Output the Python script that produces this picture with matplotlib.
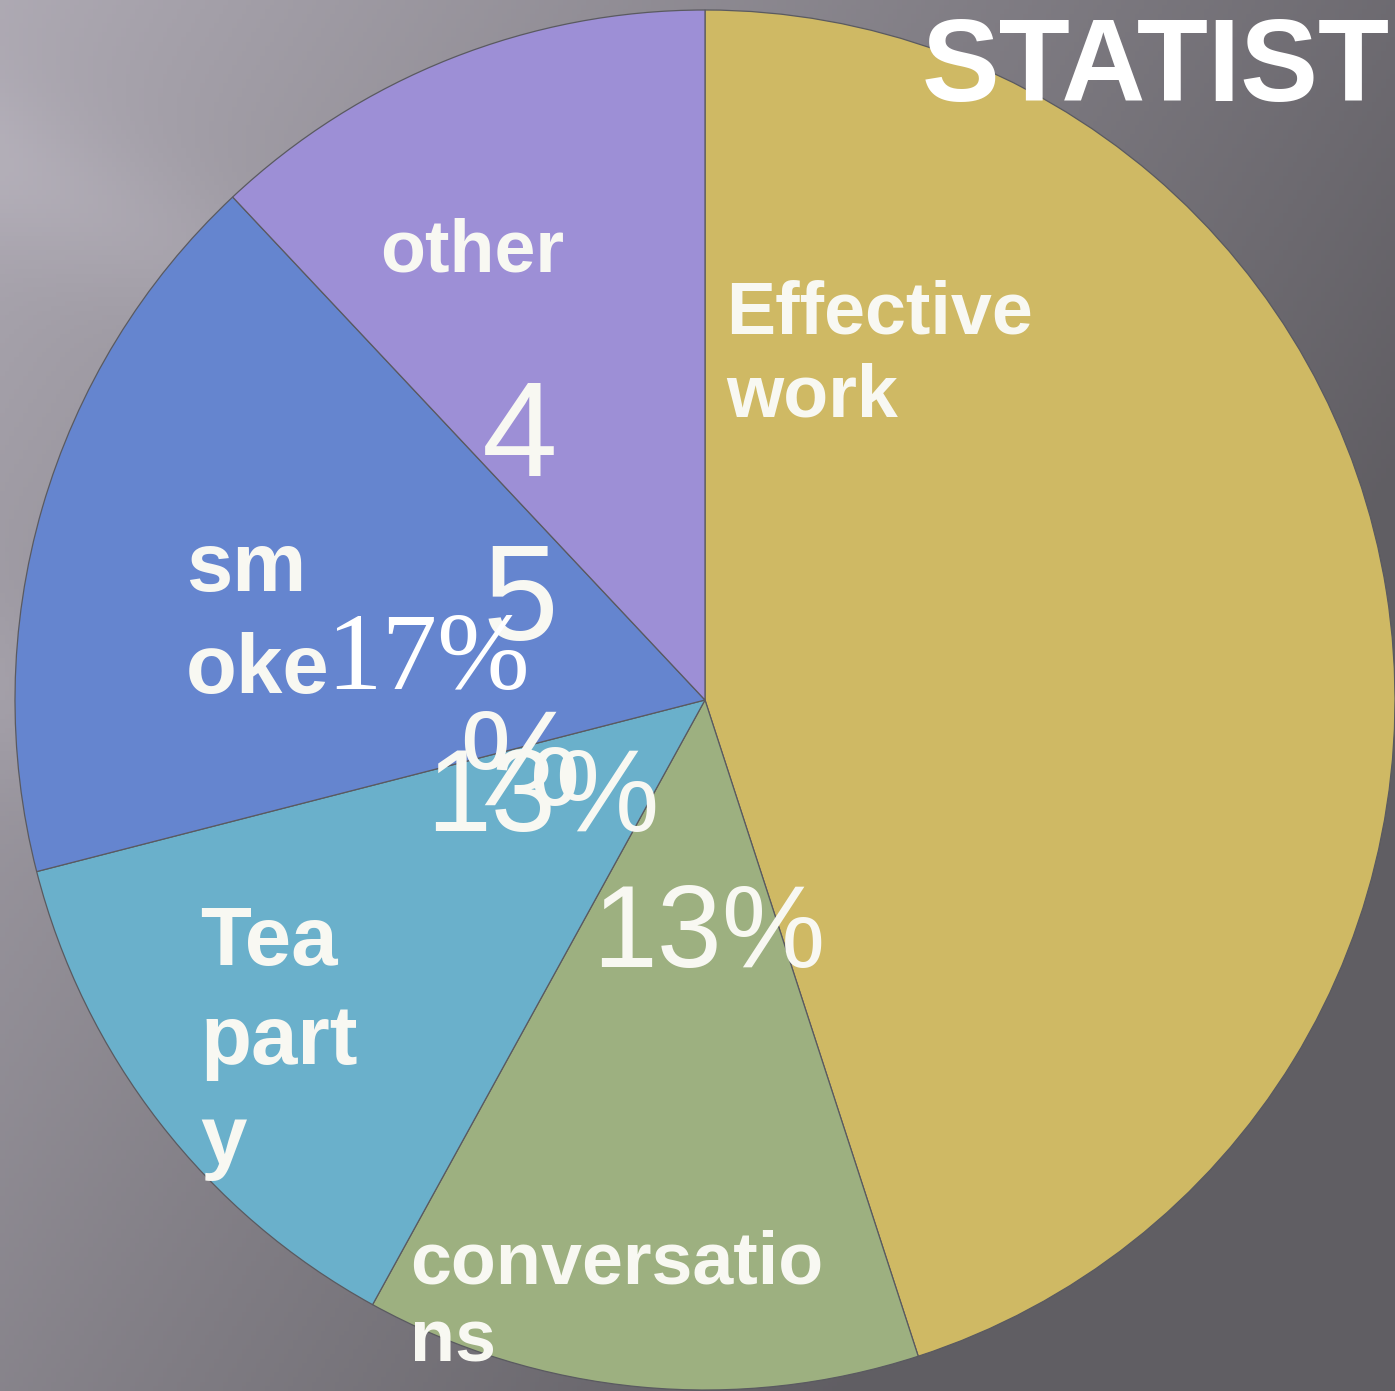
import numpy as np
import matplotlib.pyplot as plt

# Slice data (clockwise from 12 o'clock)
categories = ['Effective\nwork', 'conversatio\nns', 'Tea\npart\ny', 'sm\noke', 'other']
shares = [45, 13, 13, 17, 12]
colors = ['#cfb964', '#9db080', '#6ab0cb', '#6585cf', '#9d8fd6']

W, H = 1395, 1391
fig = plt.figure(figsize=(W / 100, H / 100), dpi=100)
ax = fig.add_axes([0, 0, 1, 1])

def Y(y):
    # picture rows are counted from the top
    return H - y

# grey slide background with soft diagonal streaks
xx, yy = np.meshgrid(np.linspace(0, 1, 300), np.linspace(0, 1, 300))
shade = 0.68 - 0.25 * xx - 0.15 * yy
shade += 0.04 * np.exp(-((yy - 0.45 * xx - 0.12) / 0.06) ** 2) * (1 - xx)
shade += 0.035 * np.exp(-((yy - 0.35 * xx - 0.50) / 0.07) ** 2) * (1 - xx)
shade = np.clip(shade, 0.38, 0.7)
bg = np.dstack([shade * 1.0, shade * 0.975, shade * 1.03])
ax.imshow(np.clip(bg, 0, 1), extent=(0, W, 0, H), origin='upper', zorder=0, aspect='auto')

wedges, _ = ax.pie(shares, colors=colors, startangle=90, counterclock=False,
                   center=(705, Y(700)), radius=690, frame=True,
                   wedgeprops=dict(edgecolor='#5a5a60', linewidth=0.9))
for w in wedges:
    w.set_zorder(2)

ax.set_xlim(0, W)
ax.set_ylim(0, H)
ax.set_aspect('equal')
ax.axis('off')

lab = dict(color='#f8f8f2', fontweight='bold', family='Liberation Sans',
           ha='left', va='top', zorder=5)
ax.text(726, Y(280), categories[0], fontsize=53, linespacing=1.25, **lab)
ax.text(410, Y(1230), categories[1], fontsize=53, linespacing=1.15, **lab)
ax.text(200, Y(904), categories[2], fontsize=60, linespacing=1.35, **lab)
ax.text(186, Y(530), categories[3], fontsize=60, linespacing=1.4, **lab)
ax.text(380, Y(218), categories[4], fontsize=53, **lab)

num = dict(color='#f8f8f2', family='Liberation Sans', zorder=6)
# wrapped "45%" label of the big slice
for ch, yc in zip(['4', '5', '%'], [441, 605, 770]):
    ax.text(520, Y(yc), ch, fontsize=98, ha='center', va='center', **num)
ax.text(543, Y(800), f'{shares[2]}%', fontsize=84, ha='center', va='center', **num)
ax.text(709, Y(936), f'{shares[1]}%', fontsize=84, ha='center', va='center', **num)
ax.text(428, Y(662), f'{shares[3]}%', fontsize=80, ha='center', va='center',
        color='white', family='Liberation Serif', zorder=7)

ax.text(922, Y(70), 'STATIST', fontsize=84, fontweight='bold', color='white',
        family='Liberation Sans', ha='left', va='center', zorder=8)

fig.savefig('out.png', dpi=100)
